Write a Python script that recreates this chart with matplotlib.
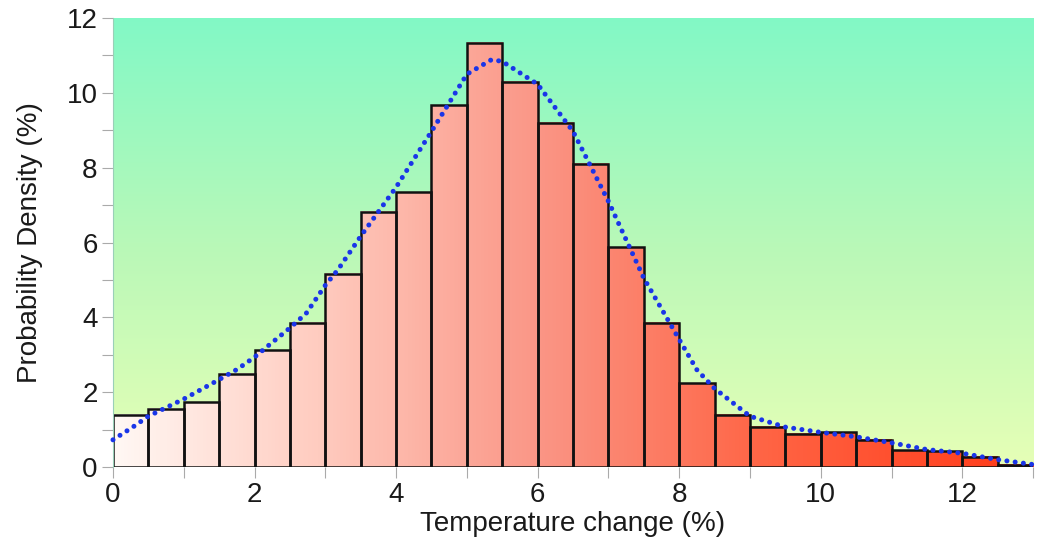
import numpy as np
import matplotlib
matplotlib.use("Agg")
import matplotlib.pyplot as plt
from matplotlib.colors import LinearSegmentedColormap

# ---- data ----
bin_edges = [0, 0.5, 1, 1.5, 2, 2.5, 3, 3.5, 4, 4.5, 5, 5.5, 6, 6.5, 7, 7.5,
             8, 8.5, 9, 9.5, 10, 10.5, 11, 11.5, 12, 12.5, 13]
bar_heights = [1.40, 1.56, 1.73, 2.50, 3.12, 3.85, 5.16, 6.82, 7.34, 9.67,
               11.33, 10.30, 9.20, 8.10, 5.87, 3.85, 2.24, 1.40, 1.07, 0.89,
               0.93, 0.73, 0.45, 0.42, 0.28, 0.07]
curve_x = [0, 0.28, 0.5, 0.75, 1.0, 1.27, 1.5, 1.76, 2.0, 2.21, 2.5, 2.73,
           3.0, 3.18, 3.5, 4.0, 4.5, 5.0, 5.35, 5.5, 6.0, 6.5, 7.0, 7.5, 8.0,
           8.25, 8.5, 9.0, 9.5, 10.0, 10.5, 11.0, 11.5, 12.0, 12.5, 13.0]
curve_y = [0.73, 1.07, 1.36, 1.59, 1.82, 2.10, 2.34, 2.62, 2.94, 3.27, 3.72,
           4.11, 4.86, 5.28, 6.17, 7.48, 8.97, 10.50, 10.89, 10.84, 10.23,
           8.97, 7.10, 5.05, 3.41, 2.60, 2.10, 1.36, 1.07, 0.93, 0.81, 0.65,
           0.47, 0.37, 0.20, 0.07]
x_ticks = [0, 2, 4, 6, 8, 10, 12]
y_ticks = [0, 2, 4, 6, 8, 10, 12]

plt.rcParams['font.family'] = ['Liberation Sans', 'DejaVu Sans']

fig = plt.figure(figsize=(10.51, 5.47), dpi=100)
ax = fig.add_axes([0.1075, 0.146, 0.8755, 0.821])
ax.set_xlim(0, 13)
ax.set_ylim(0, 12)

# background gradient (green top -> pale yellow bottom)
bg_cmap = LinearSegmentedColormap.from_list("bg", ["#E6FFB6", "#B8F8B8", "#82F9C6"])
grad = np.linspace(0, 1, 256).reshape(-1, 1)
ax.imshow(grad, cmap=bg_cmap, origin="lower", aspect="auto",
          extent=[0, 13, 0, 12], zorder=0, interpolation="bicubic")

# bar gradient (white-pink left -> red right)
bar_cmap = LinearSegmentedColormap.from_list(
    "bars", [(0.0, "#FFF8F4"), (0.22, "#FFCCC0"), (0.47, "#FA9484"),
             (0.71, "#FF6444"), (1.0, "#FF3A18")])
xmax = bin_edges[-1]
for i, h in enumerate(bar_heights):
    l, r = bin_edges[i], bin_edges[i + 1]
    g = np.linspace(l / xmax, r / xmax, 32).reshape(1, -1)
    ax.imshow(g, cmap=bar_cmap, vmin=0, vmax=1, origin="lower", aspect="auto",
              extent=[l, r, 0, h], zorder=1, interpolation="bilinear")
    ax.bar(l, h, width=r - l, align="edge", facecolor="none",
           edgecolor="#111111", linewidth=1.8, zorder=2)

ax.set_xlim(0, 13)
ax.set_ylim(0, 12)

# fitted curve, dotted
ax.plot(curve_x, curve_y, linestyle=(0, (0.01, 1.65)), dash_capstyle="round",
        color="#1A35E8", linewidth=3.6, zorder=3, clip_on=False)

for s in ax.spines.values():
    s.set_visible(False)
ax.spines['left'].set_visible(True)
ax.spines['left'].set_color("#9ACFB8")
ax.spines['left'].set_linewidth(0.8)

ax.set_xticks(x_ticks)
ax.set_yticks(y_ticks)
ax.set_xticks(np.arange(0, 14, 1), minor=True)
ax.set_yticks(np.arange(0, 13, 1), minor=True)
ax.tick_params(axis="both", which="both", color="#AAAAAA", width=0.8,
               labelsize=20, labelcolor="#1a1a1a")
ax.tick_params(axis="both", which="major", length=8, pad=3)
ax.tick_params(axis="both", which="minor", length=8)

ax.set_xlabel("Temperature change (%)", fontsize=20, color="#1a1a1a", labelpad=2)
ax.set_ylabel("Probability Density (%)", fontsize=20, color="#1a1a1a", labelpad=17)

fig.savefig("out.png", dpi=100)
